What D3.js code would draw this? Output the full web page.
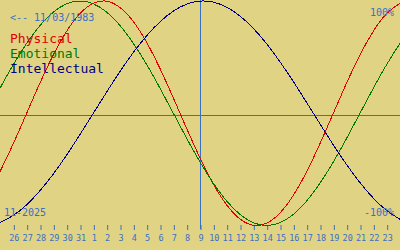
<!DOCTYPE html>
<html>
<head>
<meta charset="utf-8">
<script src="https://cdn.jsdelivr.net/npm/d3@7"></script>
<style>
  body { margin: 0; background: #e1d384; }
  svg { display: block; }
  text { font-family: "DejaVu Sans Mono", monospace; }
</style>
</head>
<body>
<div id="chart"></div>
<script>
// days shown, Oct 25 .. Nov 24 (index 0..30), today = Nov 9
const dayLabels = [25, 26, 27, 28, 29, 30, 31, 1, 2, 3, 4, 5, 6, 7, 8, 9,
                   10, 11, 12, 13, 14, 15, 16, 17, 18, 19, 20, 21, 22, 23, 24];
const todayIndex = 15;

// cycle values per day, -1 .. 1
const physical = [-0.520, -0.270, 0, 0.270, 0.520, 0.731, 0.888, 0.979, 0.998, 0.942,
                  0.817, 0.631, 0.398, 0.136, -0.136, -0.398, -0.631, -0.817, -0.942, -0.998,
                  -0.979, -0.888, -0.731, -0.520, -0.270, 0, 0.270, 0.520, 0.731, 0.888, 0.979];
const emotional = [0.223, 0.434, 0.623, 0.782, 0.901, 0.975, 1, 0.975, 0.901, 0.782,
                   0.623, 0.434, 0.223, 0, -0.223, -0.434, -0.623, -0.782, -0.901, -0.975,
                   -1, -0.975, -0.901, -0.782, -0.623, -0.434, -0.223, 0, 0.223, 0.434, 0.623];
const intellectual = [-0.972, -0.910, -0.815, -0.690, -0.541, -0.372, -0.189, 0, 0.189, 0.372,
                      0.541, 0.690, 0.815, 0.910, 0.972, 0.999, 0.990, 0.945, 0.866, 0.756,
                      0.618, 0.458, 0.282, 0.095, -0.095, -0.282, -0.458, -0.618, -0.756, -0.866, -0.945];

const seriesNames = ["Physical", "Emotional", "Intellectual"];
const birthLabel = "<-- 11/03/1983";
const monthLabel = "11-2025";

let width = 400;
let height = 250;

let svg = d3.select('#chart')
            .append('svg')
            .attr('width', width)
            .attr('height', height)
            .style('background', '#e1d384');

let xScale = d3.scaleLinear()
               .domain([0, dayLabels.length - 1])
               .range([0, width]);

let yScale = d3.scaleLinear()
               .domain([-1, 1])
               .range([225.5, 1]);

const blue = '#3a6fc4';
const color = d3.scaleOrdinal()
                .domain(seriesNames)
                .range(['#e00000', '#007800', '#000080']);

// zero line and today line
svg.append('line')
   .attr('x1', 0).attr('x2', width)
   .attr('y1', 115.5).attr('y2', 115.5)
   .attr('stroke', blue);

svg.append('line')
   .attr('x1', xScale(todayIndex) + 0.5).attr('x2', xScale(todayIndex) + 0.5)
   .attr('y1', 0).attr('y2', 229)
   .attr('stroke', blue);

// day axis
let xAxis = svg.append('g')
               .attr('transform', 'translate(0.5, 225)')
               .call(d3.axisBottom(xScale)
                       .tickValues(d3.range(1, dayLabels.length - 1))
                       .tickFormat(i => dayLabels[i])
                       .tickSize(5)
                       .tickPadding(5));
xAxis.select('.domain').remove();
xAxis.selectAll('line').attr('stroke', blue);
xAxis.selectAll('text')
     .attr('fill', blue)
     .style('font-family', '"DejaVu Sans Mono", monospace')
     .style('font-size', '8.5px');

// curves
let line = d3.line()
             .x((d, i) => xScale(i))
             .y(d => yScale(d))
             .curve(d3.curveNatural);

[physical, emotional, intellectual].forEach((values, k) => {
  svg.append('path')
     .datum(values)
     .attr('fill', 'none')
     .attr('stroke', color(seriesNames[k]))
     .attr('stroke-width', 1)
     .attr('shape-rendering', 'crispEdges')
     .attr('d', line);
});

// texts
svg.append('text')
   .attr('x', 10).attr('y', 21)
   .attr('fill', blue)
   .style('font-size', '10px')
   .text(birthLabel);

seriesNames.forEach((name, i) => {
  svg.append('text')
     .attr('x', 10).attr('y', 43 + i * 15)
     .attr('fill', color(name))
     .style('font-size', '13px')
     .text(name);
});

svg.append('text')
   .attr('x', 4).attr('y', 216)
   .attr('fill', blue)
   .style('font-size', '10px')
   .text(monthLabel);

svg.append('text')
   .attr('x', 394).attr('y', 16)
   .attr('text-anchor', 'end')
   .attr('fill', blue)
   .style('font-size', '10px')
   .text('100%');

svg.append('text')
   .attr('x', 394).attr('y', 216)
   .attr('text-anchor', 'end')
   .attr('fill', blue)
   .style('font-size', '10px')
   .text('-100%');
</script>
</body>
</html>
